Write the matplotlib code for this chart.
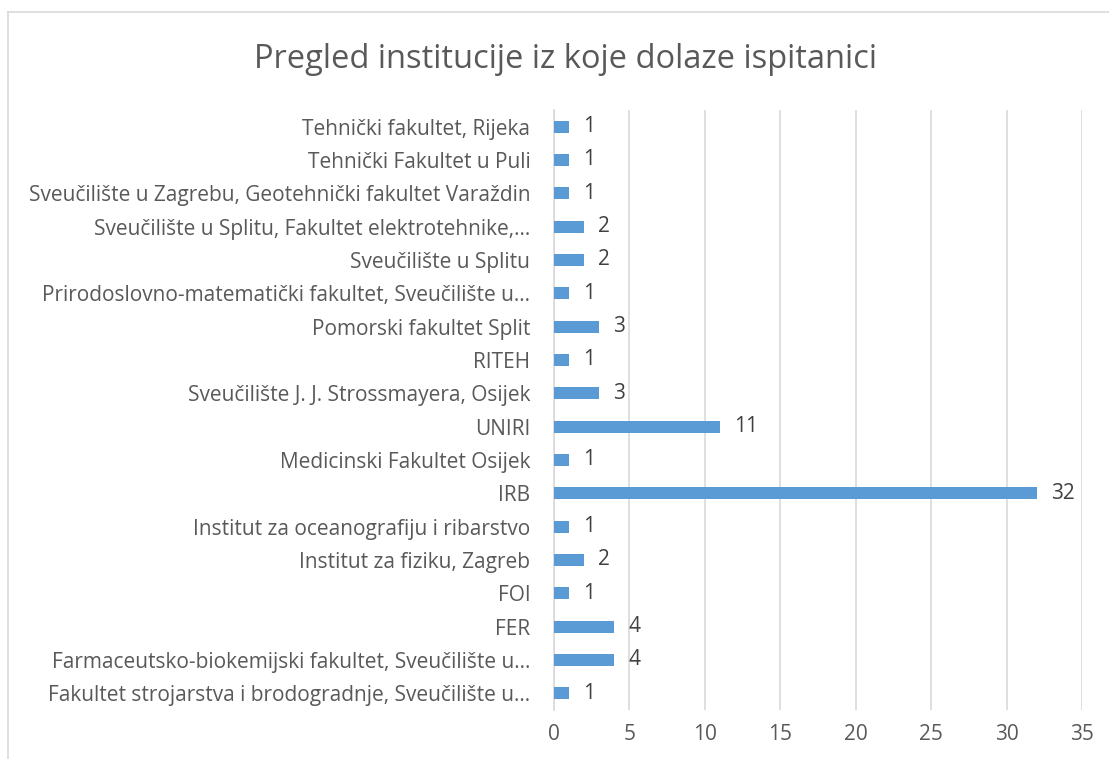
import matplotlib
matplotlib.use("Agg")
import matplotlib.pyplot as plt
from matplotlib.lines import Line2D

# Categories listed bottom-to-top (as drawn on the y axis)
categories = [
    "Fakultet strojarstva i brodogradnje, Sveučilište u…",
    "Farmaceutsko-biokemijski fakultet, Sveučilište u…",
    "FER",
    "FOI",
    "Institut za fiziku, Zagreb",
    "Institut za oceanografiju i ribarstvo",
    "IRB",
    "Medicinski Fakultet Osijek",
    "UNIRI",
    "Sveučilište J. J. Strossmayera, Osijek",
    "RITEH",
    "Pomorski fakultet Split",
    "Prirodoslovno-matematički fakultet, Sveučilište u…",
    "Sveučilište u Splitu",
    "Sveučilište u Splitu, Fakultet elektrotehnike,…",
    "Sveučilište u Zagrebu, Geotehnički fakultet Varaždin",
    "Tehnički Fakultet u Puli",
    "Tehnički fakultet, Rijeka",
]
values = [1, 4, 4, 1, 2, 1, 32, 1, 11, 3, 1, 3, 1, 2, 2, 1, 1, 1]
x_ticks = [0, 5, 10, 15, 20, 25, 30, 35]
title = "Pregled institucije iz koje dolaze ispitanici"

TEXT = "#595959"
GRID = "#D9D9D9"
BAR = "#5B9BD5"
FONT = ["Open Sans", "DejaVu Sans"]

plt.rcParams["font.family"] = FONT

fig = plt.figure(figsize=(11.09, 7.59), dpi=100)
ax = fig.add_axes([0.4995, 0.0646, 0.4762, 0.7905])

ypos = list(range(len(categories)))
ax.barh(ypos, values, height=0.355, color=BAR, zorder=3)

for y, v in zip(ypos, values):
    ax.annotate(str(v), xy=(v, y), xytext=(10, 0), textcoords="offset points",
                ha="left", va="center", fontsize=15, color="#404040")

ax.set_xlim(0, 35)
ax.set_ylim(-0.5, len(categories) - 0.5)
ax.set_xticks(x_ticks)
ax.set_xticklabels([str(t) for t in x_ticks])
ax.set_yticks(ypos)
ax.set_yticklabels(categories)

ax.grid(axis="x", color=GRID, linewidth=1.2, zorder=0)
for s in ["top", "right", "bottom"]:
    ax.spines[s].set_visible(False)
ax.spines["left"].set_color(GRID)
ax.spines["left"].set_linewidth(1.2)
ax.tick_params(axis="both", length=0, labelsize=15, colors=TEXT)
ax.tick_params(axis="y", pad=17)
ax.tick_params(axis="x", pad=10)

fig.text(0.510, 0.922, title, ha="center", va="center", fontsize=23.5, color=TEXT)

# Chart-area border (top and left visible)
fig.add_artist(Line2D([8 / 1109, 1.0], [1 - 12 / 759, 1 - 12 / 759],
                      transform=fig.transFigure, color=GRID, linewidth=1.2))
fig.add_artist(Line2D([8 / 1109, 8 / 1109], [0.0, 1 - 12 / 759],
                      transform=fig.transFigure, color=GRID, linewidth=1.2))

fig.savefig("out.png", dpi=100, facecolor="white")
